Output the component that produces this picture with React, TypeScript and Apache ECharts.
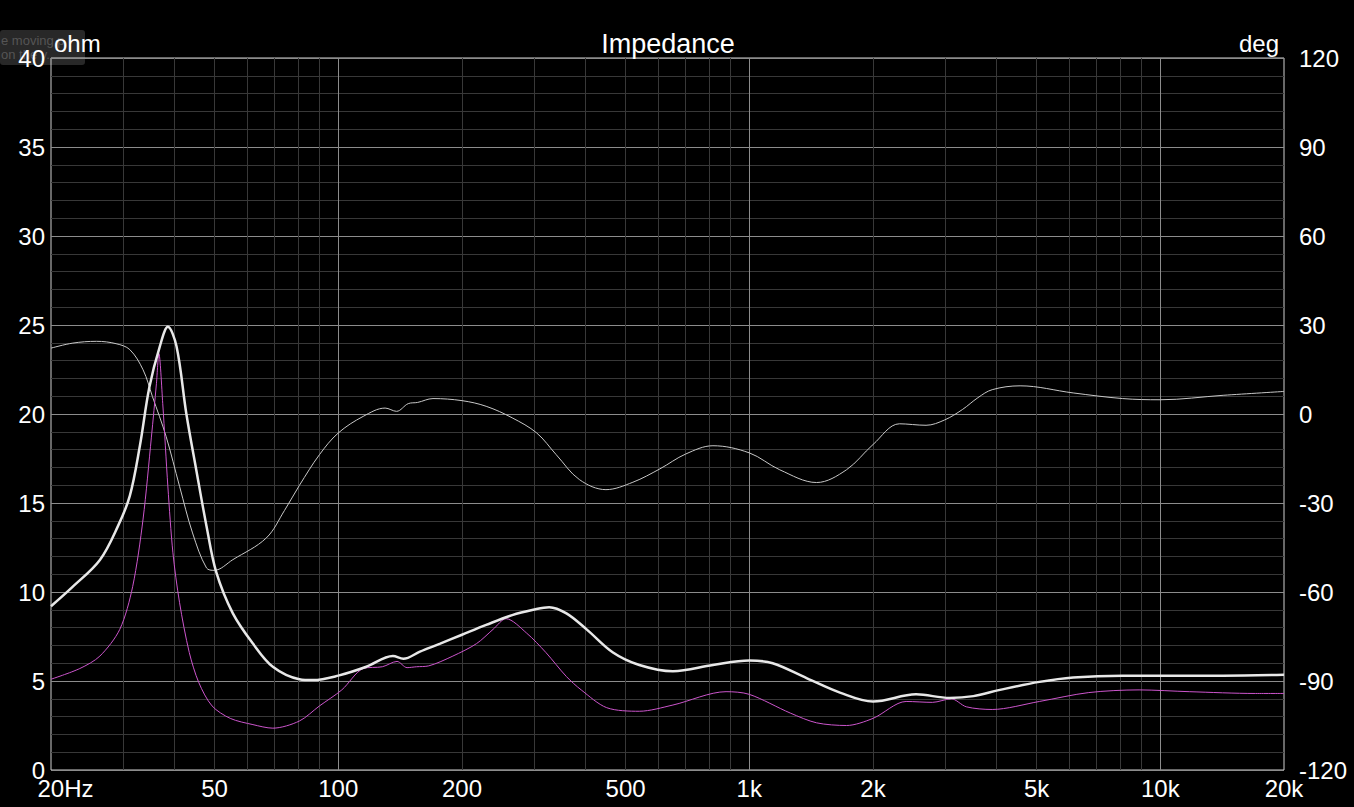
import React, { useEffect, useRef } from 'react';
import * as echarts from 'echarts';

// ---------- data ----------
const xTickFreqs = [20, 50, 100, 200, 500, 1000, 2000, 5000, 10000, 20000];
const xTickLabels = ['20Hz', '50', '100', '200', '500', '1k', '2k', '5k', '10k', '20k'];
const majorGridFreqs = [100, 1000, 10000];
const minorGridFreqs = [
  30, 40, 50, 60, 70, 80, 90,
  200, 300, 400, 500, 600, 700, 800, 900,
  2000, 3000, 4000, 5000, 6000, 7000, 8000, 9000,
];

// thick white: impedance magnitude (ohm)
const magFreq = [20, 22.6, 26.3, 29.1, 31.1, 32.9, 34.7, 36.8, 38.5, 40.4, 42.7, 45.1, 47.8, 50.5, 55.4, 62, 69.3, 80.4, 86.8, 100, 117, 135.8, 144, 158, 177, 200, 229, 265, 298, 326, 359, 402, 466, 540, 652, 816, 1000, 1140, 1382, 1662, 2000, 2546, 3072, 3510, 4072, 5080, 6140, 8100, 10000, 14220, 20000];
const magOhm = [9.2, 10.3, 11.8, 13.7, 15.4, 18.2, 21.5, 23.8, 24.9, 23.8, 20.0, 16.9, 13.7, 11.1, 8.8, 7.1, 5.8, 5.1, 5.05, 5.3, 5.8, 6.4, 6.25, 6.65, 7.1, 7.6, 8.15, 8.7, 9.0, 9.15, 8.8, 7.9, 6.6, 5.9, 5.55, 5.9, 6.15, 6.0, 5.15, 4.35, 3.85, 4.25, 4.05, 4.15, 4.5, 4.95, 5.2, 5.3, 5.3, 5.3, 5.35];

// magenta: second impedance trace (ohm)
const magentaFreq = [20, 23.5, 26.3, 29.4, 31.6, 33.5, 35.1, 36.1, 36.6, 37.4, 38.5, 39.6, 41.1, 43.4, 45.8, 49.3, 54.6, 62, 69.3, 80.4, 90, 102, 115, 128, 139, 147, 155, 166, 190, 217, 238, 256, 287, 320, 359, 390, 450, 540, 652, 878, 1000, 1258, 1458, 1724, 2000, 2408, 2790, 3100, 3374, 3900, 5080, 6700, 8880, 11760, 17060, 20000];
const magentaOhm = [5.1, 5.7, 6.4, 7.9, 10.3, 14.1, 18.7, 21.7, 23.4, 20.6, 15.9, 12.2, 9.4, 6.6, 4.9, 3.6, 2.9, 2.55, 2.35, 2.75, 3.6, 4.5, 5.7, 5.8, 6.1, 5.75, 5.8, 5.85, 6.4, 7.1, 7.9, 8.5, 7.7, 6.6, 5.25, 4.5, 3.5, 3.3, 3.65, 4.4, 4.25, 3.2, 2.65, 2.5, 2.9, 3.85, 3.8, 4.0, 3.55, 3.4, 3.85, 4.35, 4.5, 4.4, 4.3, 4.3];

// thin grey: phase (deg)
const phaseFreq = [20, 22.6, 25.8, 28.8, 31.1, 33.5, 35.3, 38.1, 41.1, 44.2, 47.8, 49.9, 55.4, 66.8, 74.0, 80.4, 90, 100, 115, 130, 138.6, 148, 156, 170, 200, 229, 265, 304, 339, 386, 448, 521, 606, 700, 816, 1000, 1186, 1458, 1724, 2000, 2320, 2692, 2988, 3300, 3600, 3900, 4560, 6140, 8100, 10000, 14220, 20000];
const phaseDeg = [22.2, 23.9, 24.5, 23.7, 21.7, 14.9, 5.9, -7.5, -24.4, -40.1, -51.9, -52.7, -49.1, -41.8, -32.5, -24.1, -13.7, -6.4, -0.8, 2.0, 0.9, 3.5, 3.9, 5.2, 4.5, 2.6, -1.3, -6.4, -13.7, -22.1, -25.5, -23.0, -18.5, -13.5, -10.7, -13.1, -18.8, -23.1, -18.8, -10.3, -3.3, -3.8, -2.0, 1.5, 5.5, 8.2, 9.5, 7.1, 5.2, 4.8, 6.3, 7.6];

const L = (f: number) => Math.log10(f);
const FONT = '"Liberation Sans", Arial, sans-serif';

export default function App() {
  const ref = useRef<HTMLDivElement>(null);

  useEffect(() => {
    if (!ref.current) return;
    const chart = echarts.init(ref.current, undefined, { renderer: 'svg' });

    const labelFor = (v: number) => {
      let best = 0;
      let d = Infinity;
      xTickFreqs.forEach((f, i) => {
        const dd = Math.abs(L(f) - v);
        if (dd < d) { d = dd; best = i; }
      });
      const t = xTickLabels[best];
      if (best === 0) return '{p| }{t|' + t + '}';
      return t;
    };

    const option: any = {
      animation: false,
      backgroundColor: '#000',
      textStyle: { fontFamily: FONT },
      title: {
        text: 'Impedance',
        left: 663,
        top: 25,
        textAlign: 'center',
        textStyle: { color: '#fff', fontSize: 27, fontWeight: 'normal', fontFamily: FONT },
      },
      graphic: [
        {
          type: 'rect',
          z: -1,
          shape: { x: 0, y: 30, width: 85, height: 35, r: 3 },
          style: { fill: 'rgba(80,80,80,0.5)' },
          silent: true,
        },
        {
          type: 'text',
          z: -1,
          x: 1,
          y: 33,
          style: { text: 'e moving p\non the y.', fill: '#555', font: '13px ' + FONT, lineHeight: 14 },
          silent: true,
        },
      ],
      grid: {
        left: 51, right: 70, top: 58, bottom: 37,
        show: true, borderColor: '#d0d0d0', borderWidth: 1, backgroundColor: 'transparent',
      },
      xAxis: [
        {
          type: 'value',
          min: L(20), max: L(20000),
          axisLine: { show: false },
          axisTick: { show: false, customValues: minorGridFreqs.map(L) },
          splitLine: { show: true, lineStyle: { color: '#383838', width: 1 } },
          axisLabel: {
            customValues: xTickFreqs.map(L),
            formatter: labelFor,
            color: '#fff', fontSize: 24, margin: 6, fontFamily: FONT,
            rich: {
              p: { width: 29, fontSize: 24, fontFamily: FONT },
              t: { color: '#fff', fontSize: 24, fontFamily: FONT },
            },
          },
        },
        {
          type: 'value',
          min: L(20), max: L(20000),
          position: 'bottom',
          axisLine: { show: false },
          axisTick: { show: false, customValues: majorGridFreqs.map(L) },
          splitLine: { show: true, lineStyle: { color: '#8c8c8c', width: 1 } },
          axisLabel: { show: false },
        },
      ],
      yAxis: [
        {
          type: 'value',
          min: 0, max: 40, interval: 5,
          name: 'ohm', nameLocation: 'end', nameGap: 15,
          nameTextStyle: { color: '#fff', fontSize: 24, align: 'left', verticalAlign: 'middle', padding: [0, 0, 0, 3], fontFamily: FONT },
          axisLine: { show: false },
          axisTick: { show: false },
          splitLine: { show: true, lineStyle: { color: '#8c8c8c', width: 1 } },
          minorTick: { show: false, splitNumber: 5 },
          minorSplitLine: { show: true, lineStyle: { color: '#383838', width: 1 } },
          axisLabel: { color: '#fff', fontSize: 24, margin: 6, fontFamily: FONT },
        },
        {
          type: 'value',
          min: -120, max: 120, interval: 30,
          position: 'right',
          name: 'deg', nameLocation: 'end', nameGap: 15,
          nameTextStyle: { color: '#fff', fontSize: 24, align: 'right', verticalAlign: 'middle', padding: [0, 5, 0, 0], fontFamily: FONT },
          axisLine: { show: false },
          axisTick: { show: false },
          splitLine: { show: false },
          axisLabel: { color: '#fff', fontSize: 24, margin: 15, fontFamily: FONT },
        },
      ],
      series: [
        {
          name: 'Phase',
          type: 'line',
          xAxisIndex: 0, yAxisIndex: 1,
          data: phaseFreq.map((f, i) => [L(f), phaseDeg[i]]),
          showSymbol: false, smooth: 0.35, silent: true,
          lineStyle: { color: '#c8c8c8', width: 1 },
        },
        {
          name: 'Impedance 2',
          type: 'line',
          xAxisIndex: 0, yAxisIndex: 0,
          data: magentaFreq.map((f, i) => [L(f), magentaOhm[i]]),
          showSymbol: false, smooth: 0.3, silent: true,
          lineStyle: { color: '#cc55cc', width: 1 },
        },
        {
          name: 'Impedance',
          type: 'line',
          xAxisIndex: 0, yAxisIndex: 0,
          data: magFreq.map((f, i) => [L(f), magOhm[i]]),
          showSymbol: false, smooth: 0.35, silent: true,
          lineStyle: { color: '#e8e8e8', width: 2.5 },
        },
      ],
    };

    chart.setOption(option);
    return () => chart.dispose();
  }, []);

  return (
    <div
      ref={ref}
      style={{ position: 'absolute', left: 0, top: 0, width: 1354, height: 807, background: '#000' }}
    />
  );
}
